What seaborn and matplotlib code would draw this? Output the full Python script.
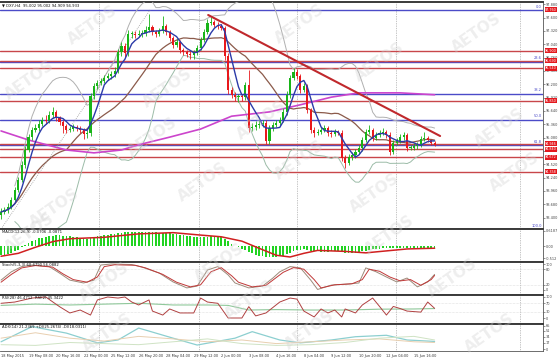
import numpy as np
import pandas as pd
import matplotlib
matplotlib.use("Agg")
import matplotlib.pyplot as plt
import matplotlib.transforms as mtransforms
import seaborn as sns

sns.set_theme(style="white")
plt.rcParams['font.family'] = ['DejaVu Sans']

# ---------------- data ----------------
title_text = "\u25BC DXY,H4  95.002 95.002 94.909 94.933"
first_open = 93.45
closes = [
    93.52, 93.56, 93.63, 93.77, 93.98, 94.19, 94.51, 94.82, 95.09, 95.24,
    95.28, 95.37, 95.45, 95.42, 95.56, 95.62, 95.49, 95.41, 95.32, 95.24,
    95.26, 95.30, 95.28, 95.24, 95.16, 95.18, 95.95, 96.16, 96.23, 96.27,
    96.33, 96.37, 96.42, 96.48, 96.88, 97.00, 96.85, 97.26, 97.26, 97.24,
    97.26, 97.28, 97.34, 97.40, 97.30, 97.26, 97.32, 97.42, 97.30, 97.17,
    97.03, 97.09, 96.92, 96.88, 96.84, 96.82, 96.86, 96.96, 97.13, 97.30,
    97.49, 97.51, 97.45, 97.42, 97.38, 96.79, 96.08, 95.98, 95.93, 95.95,
    95.93, 96.19, 95.28, 95.30, 95.35, 95.37, 95.39, 95.00, 95.28, 95.35,
    95.39, 95.45, 95.62, 95.98, 96.33, 96.46, 96.37, 96.08, 96.16, 95.66,
    95.24, 95.18, 95.20, 95.24, 95.28, 95.18, 95.16, 95.20, 95.18, 94.65,
    94.55, 94.67, 94.71, 94.78, 94.86, 95.03, 95.20, 95.24, 95.07, 95.14,
    95.18, 95.20, 95.14, 94.78, 94.97, 95.01, 95.09, 95.14, 94.86, 94.86,
    94.90, 94.93, 95.05, 95.07, 95.03, 94.97, 94.93]
highs = [
    93.60, 93.62, 93.70, 93.83, 94.05, 94.26, 94.58, 94.90, 95.16, 95.31,
    95.36, 95.44, 95.52, 95.55, 95.64, 95.72, 95.66, 95.54, 95.46, 95.37,
    95.33, 95.36, 95.35, 95.33, 95.29, 95.25, 96.01, 96.22, 96.30, 96.33,
    96.40, 96.43, 96.48, 96.56, 96.95, 97.08, 97.06, 97.33, 97.32, 97.31,
    97.33, 97.35, 97.42, 97.68, 97.45, 97.35, 97.38, 97.64, 97.47, 97.35,
    97.22, 97.16, 97.13, 96.97, 96.93, 96.89, 96.92, 97.02, 97.20, 97.37,
    97.58, 97.62, 97.56, 97.50, 97.47, 97.43, 96.85, 96.14, 96.03, 96.00,
    95.99, 96.25, 96.50, 95.38, 95.42, 95.44, 95.46, 95.44, 95.34, 95.41,
    95.45, 95.52, 95.70, 96.05, 96.40, 96.55, 96.52, 96.42, 96.22, 96.21,
    95.71, 95.30, 95.27, 95.30, 95.34, 95.33, 95.23, 95.26, 95.25, 95.23,
    94.71, 94.74, 94.77, 94.84, 94.92, 95.10, 95.27, 95.34, 95.29, 95.20,
    95.24, 95.28, 95.25, 95.19, 95.04, 95.08, 95.16, 95.20, 95.18, 94.92,
    94.96, 94.99, 95.12, 95.20, 95.11, 95.06, 95.00]
lows = [
    93.38, 93.47, 93.50, 93.58, 93.72, 93.93, 94.14, 94.45, 94.77, 95.03,
    95.19, 95.22, 95.32, 95.36, 95.38, 95.50, 95.43, 95.35, 95.18, 95.17,
    95.19, 95.21, 95.22, 95.18, 95.05, 95.08, 95.12, 95.90, 96.10, 96.18,
    96.22, 96.28, 96.32, 96.36, 96.43, 96.80, 96.78, 96.80, 97.18, 97.18,
    97.19, 97.20, 97.22, 97.29, 97.24, 97.20, 97.21, 97.27, 97.24, 97.10,
    96.97, 96.98, 96.86, 96.82, 96.78, 96.74, 96.74, 96.81, 96.91, 97.08,
    97.25, 97.44, 97.40, 97.37, 97.33, 96.72, 96.00, 95.92, 95.85, 95.82,
    95.84, 95.88, 95.20, 95.22, 95.25, 95.29, 95.30, 94.94, 94.95, 95.22,
    95.30, 95.33, 95.40, 95.56, 95.92, 96.28, 96.32, 96.02, 96.03, 95.60,
    95.18, 95.10, 95.13, 95.15, 95.19, 95.12, 95.10, 95.11, 95.13, 94.58,
    94.45, 94.50, 94.62, 94.66, 94.73, 94.80, 94.98, 95.15, 95.01, 95.02,
    95.09, 95.13, 95.08, 94.72, 94.73, 94.92, 94.96, 95.04, 94.80, 94.81,
    94.81, 94.85, 94.88, 95.00, 94.98, 94.92, 94.91]
opens = [first_open] + closes[:-1]

# long moving average (magenta), read at selected bars
mag_bars = [0, 8, 19, 27, 35, 40, 49, 58, 67, 78, 87, 96, 104, 116, 126]
mag_vals = [95.22, 95.03, 94.82, 94.76, 94.82, 94.93, 95.09, 95.26, 95.53,
            95.62, 95.77, 95.93, 96.02, 96.02, 95.98]

# horizontal levels
fib_labels = ["0.0", "23.6", "38.2", "50.0", "61.8", "100.0"]
fib_prices = [97.760, 96.674, 96.003, 95.460, 94.917, 93.160]
red_levels = [96.900, 96.690, 96.540, 95.850, 94.946, 94.840, 94.672, 94.358]
trend_x = [60.2, 127.6]
trend_y = [97.655, 95.114]
fibline_x = [0, 43.3]
fibline_y = [93.16, 97.76]
price_ticks = [97.880, 97.600, 97.320, 97.040, 96.760, 96.480, 96.200, 95.920,
               95.640, 95.360, 95.080, 94.800, 94.520, 94.240, 93.960, 93.680, 93.400]

# MACD
macd_hist = [
    -0.37, -0.36, -0.33, -0.28, -0.22, -0.15, -0.06, 0.03, 0.12, 0.20,
    0.26, 0.31, 0.35, 0.38, 0.41, 0.43, 0.44, 0.44, 0.43, 0.42,
    0.40, 0.38, 0.36, 0.34, 0.32, 0.30, 0.33, 0.37, 0.40, 0.42,
    0.44, 0.46, 0.48, 0.50, 0.53, 0.55, 0.56, 0.57, 0.58, 0.58,
    0.58, 0.58, 0.58, 0.58, 0.57, 0.56, 0.55, 0.55, 0.54, 0.52,
    0.50, 0.48, 0.46, 0.44, 0.42, 0.40, 0.38, 0.37, 0.37, 0.38,
    0.39, 0.40, 0.40, 0.39, 0.37, 0.30, 0.20, 0.10, 0.02, -0.05,
    -0.12, -0.15, -0.24, -0.30, -0.35, -0.39, -0.42, -0.45, -0.46, -0.46,
    -0.45, -0.43, -0.40, -0.34, -0.27, -0.21, -0.17, -0.15, -0.14, -0.16,
    -0.19, -0.21, -0.22, -0.23, -0.23, -0.23, -0.22, -0.22, -0.21, -0.24,
    -0.27, -0.28, -0.28, -0.27, -0.25, -0.22, -0.19, -0.16, -0.14, -0.12,
    -0.11, -0.10, -0.09, -0.10, -0.10, -0.09, -0.08, -0.08, -0.09, -0.09,
    -0.08, -0.08, -0.07, -0.07, -0.07, -0.07, -0.07]
macd_sig_bars = [0, 5, 10, 15, 20, 30, 40, 50, 58, 64, 70, 76, 80, 84, 88, 92,
                 100, 106, 112, 118, 126]
macd_sig_vals = [-0.42, -0.30, -0.05, 0.18, 0.30, 0.36, 0.50, 0.55, 0.45, 0.38,
                 0.20, -0.15, -0.38, -0.45, -0.30, -0.18, -0.22, -0.28, -0.20,
                 -0.12, -0.09]

# Stochastic
st_main_bars = [0, 3, 6, 9, 14, 17, 20, 24, 27, 29, 32, 38, 41, 46, 50, 54, 57, 60,
                63, 66, 68, 72, 76, 79, 81, 84, 87, 90, 92, 96, 101, 104, 106, 109,
                112, 115, 118, 121, 124, 126]
st_main_vals = [38, 70, 90, 96, 90, 65, 38, 27, 38, 96, 100, 98, 88, 65, 31, 8, 15,
                77, 90, 58, 27, 8, 15, 46, 70, 90, 85, 38, 2, 19, 23, 27, 85, 70,
                50, 31, 46, 12, 31, 60]
st_sig_bars = [0, 3, 6, 10, 15, 18, 21, 25, 28, 30, 33, 39, 42, 47, 51, 55, 58, 61,
               64, 67, 69, 73, 77, 80, 82, 85, 88, 91, 93, 97, 102, 105, 107, 110,
               113, 116, 119, 122, 125, 126]
st_sig_vals = [30, 60, 85, 94, 88, 62, 40, 30, 50, 90, 97, 95, 85, 60, 30, 12, 20,
               70, 86, 55, 30, 12, 18, 48, 68, 86, 80, 40, 8, 20, 24, 40, 80, 72,
               50, 35, 40, 18, 40, 56]

# RSI
rsi_fast_bars = [0, 4, 9, 13, 17, 20, 23, 26, 28, 31, 34, 36, 38, 40, 43, 44, 47,
                 49, 52, 56, 58, 60, 63, 66, 70, 72, 74, 77, 81, 84, 86, 88, 91,
                 93, 95, 97, 99, 100, 103, 105, 108, 110, 112, 114, 116, 118, 122,
                 124, 126]
rsi_fast_vals = [70, 76, 95, 100, 54, 24, 38, 14, 86, 100, 95, 100, 76, 62, 86,
                 33, 14, 43, 24, 24, 95, 76, 70, 0, 0, 54, 10, 24, 76, 95, 90, 33,
                 5, 43, 24, 38, 5, 43, 24, 62, 95, 55, 14, 55, 45, 33, 28, 76, 46]
rsi_slow_bars = [0, 10, 20, 30, 40, 50, 60, 66, 72, 80, 90, 100, 110, 120, 126]
rsi_slow_vals = [60, 66, 62, 66, 70, 62, 62, 60, 38, 40, 38, 38, 42, 43, 45]

# ADX
adx_bars = [0, 9, 19, 28, 34, 40, 50, 57, 68, 73, 81, 87, 96, 103, 112, 118, 126]
adx_vals = [20, 62, 44, 17, 25, 58, 30, 11, 30, 48, 25, 17, 25, 34, 38, 25, 21]
pdi_bars = [0, 10, 20, 30, 40, 50, 60, 70, 80, 90, 100, 110, 120, 126]
pdi_vals = [30, 45, 30, 22, 35, 28, 20, 25, 15, 20, 25, 28, 20, 18]
mdi_bars = [0, 10, 20, 30, 40, 50, 60, 70, 80, 90, 100, 110, 120, 126]
mdi_vals = [12, 10, 18, 15, 12, 20, 28, 15, 10, 12, 18, 30, 35, 25]

xtick_labels = ["18 May 2015", "19 May 08:00", "20 May 16:00", "22 May 00:00",
                "25 May 12:00", "26 May 20:00", "28 May 04:00", "29 May 12:00",
                "2 Jun 00:00", "3 Jun 08:00", "4 Jun 16:00", "8 Jun 04:00",
                "9 Jun 12:00", "10 Jun 20:00", "12 Jun 04:00", "15 Jun 16:00"]
grid_bars = [28.5, 57.6, 86.0, 114.8, 150.9]

watermarks = [(93, 25), (168, 88), (300, 24), (380, 62), (477, 33), (262, 120),
              (153, 137), (203, 182), (55, 208), (30, 80), (500, 128), (515, 172),
              (375, 193), (300, 160), (30, 233), (105, 282), (108, 333), (220, 263),
              (390, 235), (453, 278), (310, 330), (490, 333), (250, 300)]

# ---------------- figure ----------------
W, H = 560, 359
fig = plt.figure(figsize=(W / 100, H / 100), dpi=100)
fig.patch.set_facecolor("white")


def axes_px(top, bottom, left=0, right=543):
    return fig.add_axes([left / W, 1 - bottom / H, (right - left) / W, (bottom - top) / H])


ax = axes_px(2, 228)
ax_macd = axes_px(229, 261)
ax_st = axes_px(262, 294)
ax_rsi = axes_px(295, 323)
ax_adx = axes_px(324, 351)
all_axes = [ax, ax_macd, ax_st, ax_rsi, ax_adx]

XL = (-0.3, 157.5)
tiny = 2.7
for a in all_axes:
    a.set_facecolor("white")
    a.set_xlim(*XL)
    for s in a.spines.values():
        s.set_color("#555555")
        s.set_linewidth(0.6)
    a.spines["top"].set_linewidth(1.4)
    a.spines["top"].set_color("#3a3a3a")
    a.spines["left"].set_visible(False)
    a.yaxis.tick_right()
    a.tick_params(axis="y", labelsize=2.5, length=1.2, width=0.4, pad=0.6,
                  colors="#444444")
    a.tick_params(axis="x", length=0, labelbottom=False)
    for gx in grid_bars:
        a.axvline(gx, color="#8c8c8c", lw=0.5, ls=(0, (1, 1.5)), zorder=1)

n = len(closes)
idx = np.arange(n)
df = pd.DataFrame({"bar": idx, "open": opens, "high": highs, "low": lows, "close": closes})

# ---- main panel ----
ax.set_ylim(93.182, 97.928)
ax.set_yticks(price_ticks)
ax.set_yticklabels([f"{p:.3f}" for p in price_ticks])

for p in fib_prices:
    ax.axhline(p, color="#4b4bc8", lw=1.0, zorder=2)
for p in red_levels:
    ax.axhline(p, color="#c8464a", lw=1.0, zorder=2)

fib_trans = mtransforms.blended_transform_factory(ax.transAxes, ax.transData)
for lab, p in zip(fib_labels, fib_prices):
    ax.text(0.998, p + 0.03, lab, transform=fib_trans, ha="right", va="bottom",
            fontsize=2.6, color="#4b4bc8", zorder=6)

# Bollinger bands and moving averages computed from the closes
cs = pd.Series(closes)
ma_fast = cs.rolling(5, min_periods=1).mean()
ma_mid = cs.rolling(20, min_periods=1).mean()
bb_std = cs.rolling(20, min_periods=5).std()
bb_up = ma_mid + 2 * bb_std
bb_dn = ma_mid - 2 * bb_std

sns.lineplot(x=idx, y=bb_up, ax=ax, color="#b0b0b0", lw=0.7, zorder=3)
sns.lineplot(x=idx, y=bb_dn, ax=ax, color="#9cbca8", lw=0.7, zorder=3)
sns.lineplot(x=idx, y=ma_mid, ax=ax, color="#8b5a4a", lw=0.9, zorder=3)
sns.lineplot(x=mag_bars, y=mag_vals, ax=ax, color="#cc44cc", lw=1.2, zorder=3)
sns.lineplot(x=fibline_x, y=fibline_y, ax=ax, color="#9a9a9a", lw=0.6,
             ls=(0, (1, 1.5)), zorder=3)

# candles
up = df["close"] >= df["open"]
col = np.where(up, "#18b418", "#e8181c")
ax.vlines(df["bar"], df["low"], df["high"], colors=col, lw=0.6, zorder=4)
body_lo = np.minimum(df["open"], df["close"])
body_h = np.maximum(np.abs(df["close"] - df["open"]), 0.015)
ax.bar(df["bar"], body_h, bottom=body_lo, width=0.62, color=col, linewidth=0, zorder=5)

sns.lineplot(x=idx, y=ma_fast, ax=ax, color="#2b3aa8", lw=1.0, zorder=6)
sns.lineplot(x=trend_x, y=trend_y, ax=ax, color="#c0282c", lw=1.5, zorder=6)

# red price boxes on the right
box_levels = [fib_prices[0]] + red_levels
for p in box_levels:
    ax.text(1.004, p, f"{p:.3f}", transform=fib_trans, ha="left", va="center",
            fontsize=2.4, color="white", clip_on=False, zorder=10,
            bbox=dict(boxstyle="square,pad=0.15", fc="#e3191e", ec="none"))

ax.text(0.004, 0.992, title_text, transform=ax.transAxes, ha="left", va="top",
        fontsize=tiny, color="#111111", zorder=10)

# ---- MACD ----
ax_macd.set_ylim(-0.615, 0.70)
ax_macd.bar(idx, macd_hist, width=0.5, color="#22d322", linewidth=0, zorder=3)
sns.lineplot(x=macd_sig_bars, y=macd_sig_vals, ax=ax_macd, color="#d02020", lw=1.1, zorder=4)
ax_macd.set_yticks([0.6187, 0.0, -0.512])
ax_macd.set_yticklabels(["0.6187", "0.00", "-0.512"])
ax_macd.text(0.004, 0.96, "MACD(12,26,9) -0.0706 -0.0871", transform=ax_macd.transAxes,
             ha="left", va="top", fontsize=tiny, color="#111111", zorder=10)

# ---- Stochastic ----
ax_st.set_ylim(-15.4, 107.7)
for lv in (20, 80):
    ax_st.axhline(lv, color="#c8c8c8", lw=0.4, ls=(0, (1, 1.5)), zorder=1)
sns.lineplot(x=st_main_bars, y=st_main_vals, ax=ax_st, color="#9c8a7a", lw=0.7, zorder=3)
sns.lineplot(x=st_sig_bars, y=st_sig_vals, ax=ax_st, color="#c03838", lw=0.7, zorder=3)
ax_st.set_yticks([100, 80, 20, 0])
ax_st.set_yticklabels(["100", "80", "20", "0"])
ax_st.text(0.004, 0.96, "Stoch(5,3,3) 60.4790 56.0882", transform=ax_st.transAxes,
           ha="left", va="top", fontsize=tiny, color="#111111", zorder=10)

# ---- RSI ----
ax_rsi.set_ylim(-23.8, 109.5)
for lv in (30, 70):
    ax_rsi.axhline(lv, color="#c8c8c8", lw=0.4, ls=(0, (1, 1.5)), zorder=1)
sns.lineplot(x=rsi_slow_bars, y=rsi_slow_vals, ax=ax_rsi, color="#8fc89a", lw=0.8, zorder=3)
sns.lineplot(x=rsi_fast_bars, y=rsi_fast_vals, ax=ax_rsi, color="#b04040", lw=0.7, zorder=3)
ax_rsi.set_yticks([100, 70, 30, 0])
ax_rsi.set_yticklabels(["100", "70", "30", "0"])
ax_rsi.text(0.004, 0.96, "RSI(28) 46.4712  RSI(2) 45.3422", transform=ax_rsi.transAxes,
            ha="left", va="top", fontsize=tiny, color="#111111", zorder=10)

# ---- ADX ----
ax_adx.set_ylim(-5.5, 69.2)
sns.lineplot(x=adx_bars, y=adx_vals, ax=ax_adx, color="#8ccfd0", lw=0.9, zorder=3)
sns.lineplot(x=pdi_bars, y=pdi_vals, ax=ax_adx, color="#e8cfb0", lw=0.7, zorder=3)
sns.lineplot(x=mdi_bars, y=mdi_vals, ax=ax_adx, color="#cfe3c4", lw=0.7, zorder=3)
ax_adx.set_yticks([65, 51, 34, 17, 0])
ax_adx.set_yticklabels(["65", "51", "34", "17", "0"])
ax_adx.text(0.004, 0.96, "ADX(14) 21.2369 +DI(25.2674) -DI(18.0311)",
            transform=ax_adx.transAxes, ha="left", va="top", fontsize=tiny,
            color="#111111", zorder=10)

# x labels
ax_adx.set_xticks([8 * k for k in range(len(xtick_labels))])
ax_adx.set_xticklabels(xtick_labels)
ax_adx.tick_params(axis="x", labelbottom=True, labelsize=2.5, length=1.2, width=0.4,
                   pad=0.6, colors="#333333")
for t in ax_adx.get_xticklabels():
    t.set_ha("left")

for a in all_axes:
    a.set_xlabel("")
    a.set_ylabel("")
    a.set_xlim(*XL)

# watermarks
for (px, py) in watermarks:
    fig.text(px / W, 1 - py / H, "AETOS", ha="center", va="center", rotation=35,
             fontsize=11, fontweight="bold", color="#d0d0d0", alpha=0.35, zorder=20)

fig.savefig("out.png", dpi=100, facecolor="white")
